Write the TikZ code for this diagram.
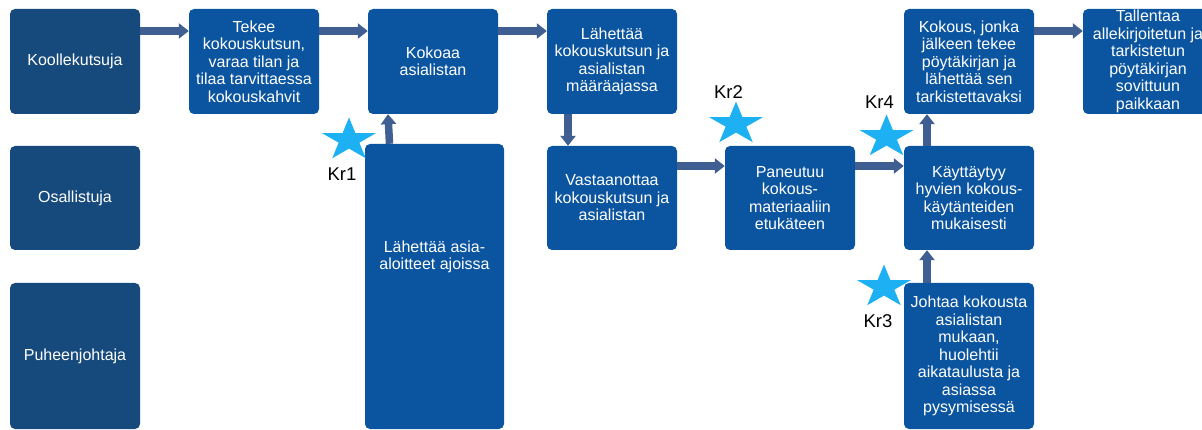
\documentclass[tikz,border=0pt]{standalone}
\usepackage{fontspec}
\setmainfont{Liberation Sans}
\usetikzlibrary{arrows.meta,shapes.geometric}
\definecolor{boxdark}{HTML}{174A7C}
\definecolor{boxblue}{HTML}{0B55A0}
\definecolor{arrowc}{HTML}{3F5E91}
\definecolor{starc}{HTML}{1DB1F4}
\tikzset{
  box/.style={rectangle, rounded corners=5pt, fill=boxblue, text=white, align=center,
    minimum width=130pt, minimum height=105pt, inner sep=0pt,
    font=\fontsize{16}{17.5}\selectfont},
  rolebox/.style={box, fill=boxdark},
  boxtext/.style={text=white, align=center, inner sep=0pt, font=\fontsize{16}{17.5}\selectfont},
  flow/.style={draw=arrowc, line width=7.5pt, -{Triangle[width=15pt,length=10pt]}},
  krstar/.style={star, star points=5, star point ratio=2.618, minimum size=57pt,
    inner sep=0pt, fill=starc, draw=none, yscale=0.79},
  krlabel/.style={text=black, inner sep=0pt, font=\fontsize{18.5}{20}\selectfont}
}
\begin{document}
\begin{tikzpicture}[x=1pt,y=-1pt]
\useasboundingbox (0,0) rectangle (1202,430);
% role boxes
\node[rolebox] (k1) at (75,61.5) {Koollekutsuja};
\node[rolebox, minimum height=104pt] (k2) at (75,198) {Osallistuja};
\node[rolebox, minimum height=146pt] (k3) at (75,356) {Puheenjohtaja};
% process boxes
\node[box] (tekee) at (254,61.5) {Tekee\\kokouskutsun,\\varaa tilan ja\\tilaa tarvittaessa\\kokouskahvit};
\node[box] (kokoaa) at (433,61.5) {Kokoaa\\asialistan};
\node[box, minimum width=139pt, minimum height=285pt] (asia) at (434.5,286.5) {};
\node[boxtext] (asiatext) at (434.5,257) {Lähettää asia-\\aloitteet ajoissa};
\node[box] (lahettaa) at (612,61.5) {Lähettää\\kokouskutsun ja\\asialistan\\määräajassa};
\node[box, minimum height=104pt] (vast) at (612,198) {Vastaanottaa\\kokouskutsun ja\\asialistan};
\node[box, minimum height=104pt] (paneutuu) at (790,198) {Paneutuu\\kokous-\\materiaaliin\\etukäteen};
\node[box, minimum height=104pt] (kaytt) at (969,198) {Käyttäytyy\\hyvien kokous-\\käytänteiden\\mukaisesti};
\node[box] (kokous) at (969,61.5) {Kokous, jonka\\jälkeen tekee\\pöytäkirjan ja\\lähettää sen\\tarkistettavaksi};
\node[box, minimum height=146pt] (johtaa) at (969,356) {Johtaa kokousta\\asialistan\\mukaan,\\huolehtii\\aikataulusta ja\\asiassa\\pysymisessä};
\node[box] (tallentaa) at (1148,61.5) {Tallentaa\\allekirjoitetun ja\\tarkistetun\\pöytäkirjan\\sovittuun\\paikkaan};
% connectors
\draw[flow] ([yshift=30.5pt]k1.east) -- ([yshift=30.5pt]tekee.west);
\draw[flow] ([yshift=30.5pt]tekee.east) -- ([yshift=30.5pt]kokoaa.west);
\draw[flow] ([yshift=30.5pt]kokoaa.east) -- ([yshift=30.5pt]lahettaa.west);
\draw[flow] ([xshift=-44pt]lahettaa.south) -- ([xshift=-44pt]vast.north);
\draw[flow] ([yshift=32pt]vast.east) -- ([yshift=32pt]paneutuu.west);
\draw[flow] ([yshift=32pt]paneutuu.east) -- ([yshift=32pt]kaytt.west);
\draw[flow] ([xshift=-42pt]kaytt.north) -- ([xshift=-42pt]kokous.south);
\draw[flow] ([xshift=-42pt]johtaa.north) -- ([xshift=-42pt]kaytt.south);
\draw[flow] ([yshift=30.5pt]kokous.east) -- ([yshift=30.5pt]tallentaa.west);
\draw[flow] ([xshift=-45pt]asia.north) -- ([xshift=-45pt]kokoaa.south);
% stars and labels
\node[krstar] (s1) at (349,140) {};
\node[krlabel] (kr1) at (342,174) {Kr1};
\node[krstar] (s2) at (736,124) {};
\node[krlabel] (kr2) at (728.5,92) {Kr2};
\node[krstar] (s4) at (886.5,137) {};
\node[krlabel] (kr4) at (879.5,102.5) {Kr4};
\node[krstar] (s3) at (884,287) {};
\node[krlabel] (kr3) at (878,321.5) {Kr3};
\end{tikzpicture}
\end{document}
